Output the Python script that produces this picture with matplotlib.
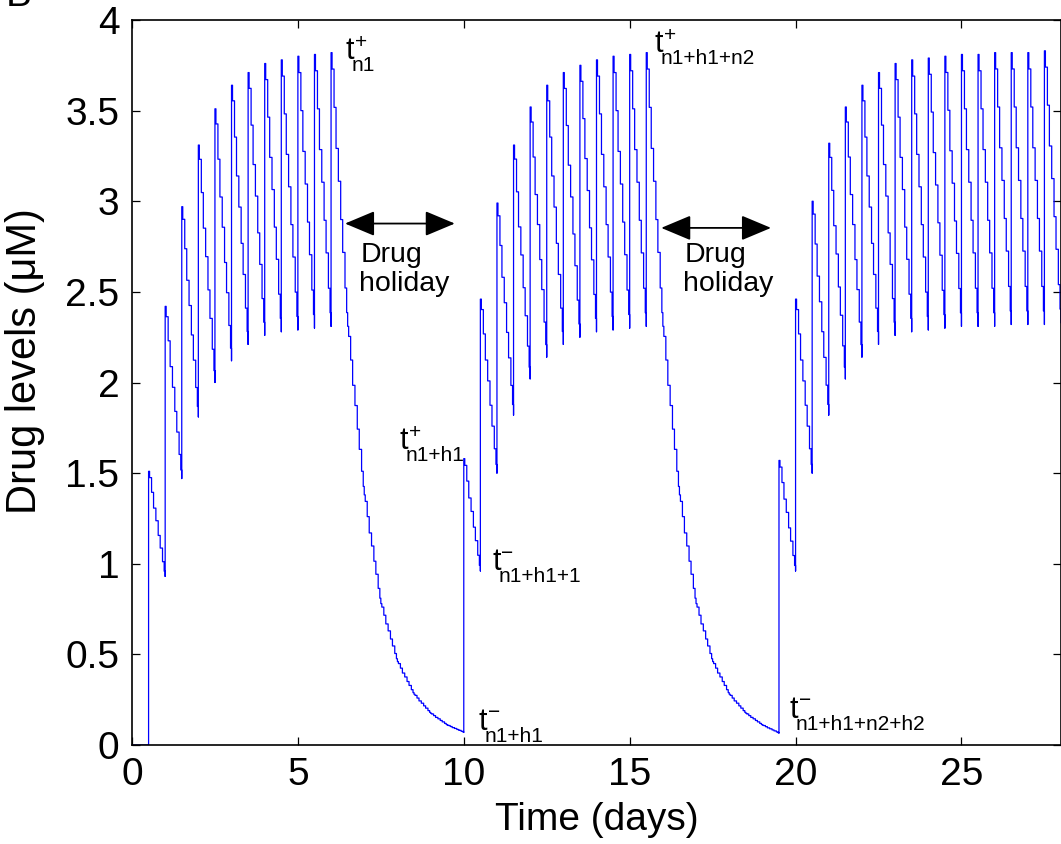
import matplotlib
matplotlib.use("Agg")
import matplotlib.pyplot as plt

plt.rcParams["font.family"] = ["Liberation Sans", "DejaVu Sans"]

# dosing times (days), level right after each dose and level just before the next one (uM)
cycle1_doses = [0.5, 1.0, 1.5, 2.0, 2.5, 3.0, 3.5, 4.0, 4.5, 5.0, 5.5, 6.0]
cycle1_peaks = [1.51, 2.42, 2.97, 3.31, 3.51, 3.64, 3.71, 3.76, 3.78, 3.80, 3.81, 3.82]
cycle1_troughs = [0.93, 1.47, 1.81, 2.00, 2.12, 2.21, 2.26, 2.28, 2.29, 2.30, 2.31, 2.31]

cycle2_doses = [10.0, 10.5, 11.0, 11.5, 12.0, 12.5, 13.0, 13.5, 14.0, 14.5, 15.0, 15.5]
cycle2_peaks = [1.58, 2.46, 2.99, 3.31, 3.52, 3.64, 3.71, 3.75, 3.78, 3.80, 3.81, 3.82]
cycle2_troughs = [0.96, 1.50, 1.82, 2.02, 2.14, 2.21, 2.25, 2.28, 2.29, 2.30, 2.31, 2.31]

cycle3_doses = [19.5, 20.0, 20.5, 21.0, 21.5, 22.0, 22.5, 23.0, 23.5, 24.0, 24.5,
                25.0, 25.5, 26.0, 26.5, 27.0, 27.5]
cycle3_peaks = [1.57, 2.46, 3.00, 3.32, 3.52, 3.64, 3.71, 3.76, 3.78, 3.79, 3.80,
                3.81, 3.81, 3.82, 3.82, 3.82, 3.83]
cycle3_troughs = [0.96, 1.50, 1.82, 2.02, 2.14, 2.21, 2.26, 2.28, 2.29, 2.30, 2.31,
                  2.31, 2.31, 2.32, 2.32, 2.32, 2.33]

# drug holidays: level at each half day
holiday1_times = [7.0, 7.5, 8.0, 8.5, 9.0, 9.5, 10.0]
holiday1_levels = [1.38, 0.78, 0.46, 0.28, 0.175, 0.11, 0.07]
holiday2_times = [16.5, 17.0, 17.5, 18.0, 18.5, 19.0, 19.5]
holiday2_levels = [1.38, 0.78, 0.46, 0.28, 0.175, 0.11, 0.066]

# staircase inside one half-day interval (read off the first dose):
# time offset (days) and fraction of the drop already done
step_offsets = [0, 0.03, 0.09, 0.15, 0.22, 0.29, 0.35, 0.42, 0.47, 0.5]
step_drop = [0, 0.06, 0.20, 0.35, 0.47, 0.61, 0.73, 0.86, 0.95, 1.0]

t, v = [0.0, 0.5], [0.0, 0.0]


def add_interval(t0, length, v_start, v_end):
    for off, drop in zip(step_offsets, step_drop):
        t.append(t0 + off * length / 0.5)
        v.append(v_start - (v_start - v_end) * drop)


def add_cycle(doses, peaks, troughs, h_times=None, h_levels=None):
    for d, p, tr in zip(doses, peaks, troughs):
        add_interval(d, 0.5, p, tr)
    if h_times:
        prev_t, prev_v = doses[-1] + 0.5, troughs[-1]
        for ht, hl in zip(h_times, h_levels):
            add_interval(prev_t, ht - prev_t, prev_v, hl)
            prev_t, prev_v = ht, hl


add_cycle(cycle1_doses, cycle1_peaks, cycle1_troughs, holiday1_times, holiday1_levels)
add_cycle(cycle2_doses, cycle2_peaks, cycle2_troughs, holiday2_times, holiday2_levels)
add_cycle(cycle3_doses, cycle3_peaks, cycle3_troughs)

fig = plt.figure(figsize=(10.61, 8.44), dpi=100)
ax = fig.add_axes([0.1244, 0.1173, 0.8756, 0.859])
ax.plot(t, v, color=(0, 0, 1), lw=0.9, drawstyle="steps-post")

ax.set_xlim(0, 28)
ax.set_ylim(0, 4)
ax.set_xticks([0, 5, 10, 15, 20, 25])
ax.set_yticks([0, 0.5, 1, 1.5, 2, 2.5, 3, 3.5, 4])
ax.set_yticklabels(["0", "0.5", "1", "1.5", "2", "2.5", "3", "3.5", "4"])
ax.tick_params(direction="in", top=True, right=True, length=6, width=0.9,
               labelsize=28, pad=9)
for s in ax.spines.values():
    s.set_linewidth(1.2)

ax.set_xlabel("Time (days)", fontsize=28)
ax.set_ylabel("Drug levels (\u03bcM)", fontsize=30)
ax.xaxis.set_label_coords(0.5, -0.078)
ax.yaxis.set_label_coords(-0.094, 0.53)


def tlabel(x, y, sign, sub):
    ax.text(x, y, "t", fontsize=22, ha="left", va="baseline")
    dy = 8.5 if sign == "\u2212" else 8
    ax.annotate(sign, (x, y), xytext=(6.5, dy), textcoords="offset points",
                fontsize=15, va="baseline")
    ax.annotate(sub, (x, y), xytext=(4.3, -8.6), textcoords="offset points",
                fontsize=15, va="baseline")


tlabel(6.45, 3.785, "+", "n1")
tlabel(8.07, 1.635, "+", "n1+h1")
tlabel(10.86, 0.963, "\u2212", "n1+h1+1")
tlabel(10.45, 0.083, "\u2212", "n1+h1")
tlabel(15.75, 3.822, "+", "n1+h1+n2")
tlabel(19.82, 0.148, "\u2212", "n1+h1+n2+h2")

# drug holiday arrows
for x0, x1, y, xt in [(6.42, 9.73, 2.877, 6.84), (15.95, 19.26, 2.853, 16.6)]:
    ax.annotate("", xy=(x1, y), xytext=(x0, y),
                arrowprops=dict(arrowstyle="<|-|>,head_length=0.62,head_width=0.26",
                                color="k", lw=1.3, mutation_scale=30,
                                shrinkA=0, shrinkB=0))
    ax.text(xt + 0.05, 2.663, "Drug", fontsize=20.5, ha="left", va="baseline")
    ax.text(xt, 2.504, "holiday", fontsize=20.5, ha="left", va="baseline")

fig.text(0.005, 0.993, "B", fontsize=28, ha="left", va="baseline")

fig.savefig("out.png", dpi=100)
